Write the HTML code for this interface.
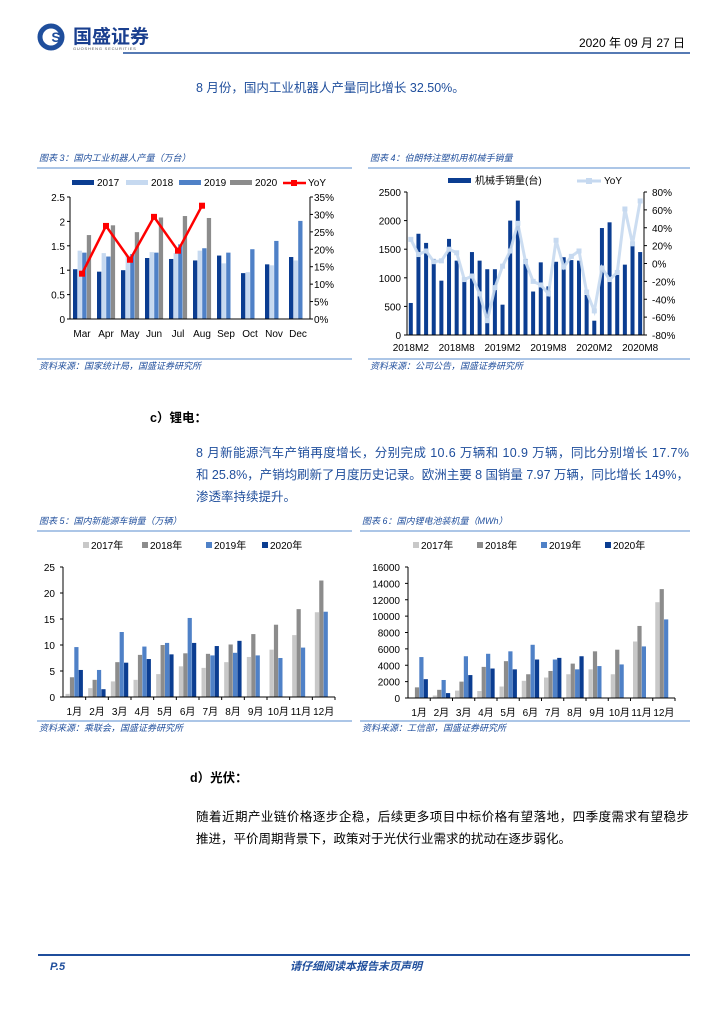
<!DOCTYPE html>
<html><head><meta charset="utf-8"><style>
body{margin:0;background:#fff;width:724px;height:1024px;overflow:hidden;font-family:"Liberation Sans","Noto Sans CJK SC",sans-serif}
svg{position:absolute;left:0;top:0}
</style></head><body>
<svg id="s" width="724" height="1024" xmlns="http://www.w3.org/2000/svg" font-family="Liberation Sans, Noto Sans CJK SC, sans-serif"></svg>
<script>
var o='';
function t(x,y,s,sz,fill,extra){o+='<text x="'+x+'" y="'+y+'" font-size="'+sz+'" fill="'+(fill||'#000')+'" '+(extra||'')+'>'+s+'</text>';}
function r(x,y,w,h,f){o+='<rect x="'+x+'" y="'+y+'" width="'+w+'" height="'+h+'" fill="'+f+'"/>';}
function l(x1,y1,x2,y2,c,w){o+='<line x1="'+x1+'" y1="'+y1+'" x2="'+x2+'" y2="'+y2+'" stroke="'+c+'" stroke-width="'+(w||1)+'"/>';}
var B='#1f4e9c';
// header
o+='<circle cx="51" cy="37" r="11" fill="none" stroke="#1f4e9c" stroke-width="5"/>';
t(56,42,'S',14,B,'font-weight="bold" text-anchor="middle"');
t(73,43,'国盛证券',19,'#1a3f8f','font-weight="bold"');
t(73,50,'GUOSHENG SECURITIES',4,'#555','letter-spacing="0.8"');
t(685,47,'2020 年 09 月 27 日',12,'#000','text-anchor="end"');
l(123,53,690,53,B,1.5);
t(196,92,'8 月份，国内工业机器人产量同比增长 32.50%。',12.5,B);
// chart frame helpers
function frame(x1,x2,ty,ly,title,sy,src){t(x1+2,ty,title,9,B,'font-style="italic"');l(x1,ly,x2,ly,'#5a8ccf',1);l(x1,sy,x2,sy,'#5a8ccf',1);t(x1+2,sy+10,src,9,B,'font-style="italic"');}
frame(37,352,161,168,'图表 3：国内工业机器人产量（万台）',359,'资料来源：国家统计局，国盛证券研究所');
frame(368,690,161,168,'图表 4：伯朗特注塑机用机械手销量',359,'资料来源：公司公告，国盛证券研究所');
frame(37,352,524,531,'图表 5：国内新能源车销量（万辆）',721,'资料来源：乘联会，国盛证券研究所');
frame(360,690,524,531,'图表 6：国内锂电池装机量（MWh）',721,'资料来源：工信部，国盛证券研究所');
// Chart 3
(function(){var X0=70,X1=310,Y0=319,H=122,cw=24;
var d=[[1.02,.97,1.0,1.25,1.23,1.2,1.3,.94,1.12,1.27],[1.4,1.35,1.3,1.37,1.35,1.4,1.14,.96,1.1,1.2],[1.36,1.28,1.33,1.36,1.53,1.45,1.36,1.43,1.6,2.01],[1.72,1.92,1.78,2.08,2.11,2.07]];
var c=['#0b3d91','#c6d9f0','#4f81c7','#8c8c8c'];
for(var s=0;s<4;s++)for(var i=0;i<d[s].length;i++){var h=d[s][i]/2.5*H;r(X0+i*cw+3+s*4.6,Y0-h,4.3,h,c[s]);}
l(X0,Y0-H,X0,Y0,'#000');l(X1,Y0-H,X1,Y0,'#000');l(X0,Y0,X1,Y0,'#000');
['0','0.5','1','1.5','2','2.5'].forEach(function(v,i){var y=Y0-i*H/5;t(X0-5,y+4,v,10,'#000','text-anchor="end"');l(X0-3,y,X0,y,'#000');});
for(var i=0;i<8;i++){var y=Y0-i*H/7;t(X1+4,y+4,(i*5)+'%',10,'#000');l(X1,y,X1+3,y,'#000');}
['Mar','Apr','May','Jun','Jul','Aug','Sep','Oct','Nov','Dec'].forEach(function(m,i){t(X0+i*cw+cw/2,337,m,10,'#000','text-anchor="middle"');});
var yy=[13,26.7,17,29.3,19.6,32.5],p='';yy.forEach(function(v,i){p+=(X0+i*cw+cw/2)+','+(Y0-v/35*H)+' ';});
o+='<polyline points="'+p+'" fill="none" stroke="#f00" stroke-width="2.5"/>';
yy.forEach(function(v,i){r(X0+i*cw+cw/2-3,Y0-v/35*H-3,6,6,'#f00');});
var lg=[[72,'2017',c[0]],[126,'2018',c[1]],[179,'2019',c[2]],[230,'2020',c[3]]];
lg.forEach(function(a){r(a[0],180,22,5,a[2]);t(a[0]+25,186,a[1],10);});
l(283,183,306,183,'#f00',2.5);r(291,180,6,6,'#f00');t(308,186,'YoY',10);
})();
// Chart 4
(function(){var X0=407,X1=644,Y0=335,H=143,cw=237/31;
var b=[560,1770,1610,1330,950,1680,1300,980,1450,1300,1150,1150,530,2000,2350,1330,760,1270,850,1280,1360,1310,1300,700,250,1870,1970,1050,1230,1590,1450];
var y=[27,10,14,2,3,16,12,-18,-14,-34,-64,-27,-3,14,45,2,-20,-24,-34,26,-4,8,14,-32,-53,-5,-18,-10,61,22,70];
b.forEach(function(v,i){var h=v/2500*H;r(X0+i*cw+1.8,Y0-h,4,h,'#0b3d91');});
var p='';y.forEach(function(v,i){p+=(X0+i*cw+cw/2)+','+(Y0-(v+80)/160*H)+' ';});
o+='<polyline points="'+p+'" fill="none" stroke="#c6d9f0" stroke-width="3" opacity="0.9"/>';
y.forEach(function(v,i){r(X0+i*cw+cw/2-2.5,Y0-(v+80)/160*H-2.5,5,5,'#c6d9f0');});
l(X0,Y0-H,X0,Y0,'#000');l(X1,Y0-H,X1,Y0,'#000');l(X0,Y0,X1,Y0,'#000');
for(var i=0;i<=5;i++){var yy=Y0-i*H/5;t(X0-6,yy+4,i*500,10,'#000','text-anchor="end"');l(X0-3,yy,X0,yy,'#000');}
for(var i=0;i<=8;i++){var yy=Y0-i*H/8;t(X1+8,yy+4,(i*20-80)+'%',10);l(X1,yy,X1+3,yy,'#000');}
['2018M2','2018M8','2019M2','2019M8','2020M2','2020M8'].forEach(function(s,i){t(X0+i*6*cw+cw/2,351,s,10,'#000','text-anchor="middle"');});
r(448,178,23,5,'#0b3d91');t(475,184,'机械手销量(台)',10);
l(577,181,601,181,'#c6d9f0',3);r(586,178,6,6,'#c6d9f0');t(604,184,'YoY',10);
})();
// bar chart 5/6
function grp(X0,X1,Y0,H,max,step,d,lx){var cw=(X1-X0)/12;var c=['#c8c8c8','#8c8c8c','#4f81c7','#0b3d91'];
for(var s=0;s<4;s++)for(var i=0;i<d[s].length;i++){var h=d[s][i]/max*H;r(X0+i*cw+2.5+s*4.4,Y0-h,4.2,h,c[s]);}
l(X0,Y0-H,X0,Y0,'#000');l(X0,Y0,X1,Y0,'#000');
for(var v=0;v<=max;v+=step){var y=Y0-v/max*H;t(X0-8,y+4,v,10,'#000','text-anchor="end"');l(X0-3,y,X0,y,'#000');}
for(var i=0;i<12;i++){t(X0+i*cw+cw/2,Y0+18,(i+1)+'月',10,'#000','text-anchor="middle"');l(X0+(i+1)*cw,Y0,X0+(i+1)*cw,Y0+3,'#000');}
['2017年','2018年','2019年','2020年'].forEach(function(s,i){r(lx[i],542,6,6,c[i]);t(lx[i]+8,549,s,10);});}
grp(63,335,697,130,25,5,[[.6,1.7,3.0,3.3,4.4,5.9,5.6,6.7,7.7,9.1,11.9,16.3],[3.8,3.3,6.7,8.1,10.0,8.4,8.3,10.1,12.1,13.9,16.9,22.4],[9.6,5.2,12.5,9.7,10.4,15.2,8.0,8.5,8.0,7.5,9.5,16.4],[5.2,1.5,6.6,7.3,8.2,10.4,9.8,10.8]],[83,142,206,262]);
grp(408,675,698,131,16000,2000,[[50,300,900,850,1400,2100,2500,2900,3500,2900,6900,11700],[1300,1000,2000,3800,4500,2900,3300,4200,5700,5900,8800,13300],[5000,2200,5100,5400,5700,6500,4700,3500,3900,4100,6300,9600],[2300,600,2800,3600,3500,4700,4900,5100]],[413,477,541,605]);
// text
t(150,422,'c）锂电：',12.5,'#000','font-weight="bold"');
t(196,457,'8 月新能源汽车产销再度增长，分别完成 10.6 万辆和 10.9 万辆，同比分别增长 17.7%',12.5,B,'textLength="493"');
t(196,479,'和 25.8%，产销均刷新了月度历史记录。欧洲主要 8 国销量 7.97 万辆，同比增长 149%，',12.5,B,'textLength="493"');
t(196,501,'渗透率持续提升。',12.5,B);
t(190,782,'d）光伏：',12.5,'#000','font-weight="bold"');
t(196,821,'随着近期产业链价格逐步企稳，后续更多项目中标价格有望落地，四季度需求有望稳步',12.5,'#000','textLength="493"');
t(196,843,'推进，平价周期背景下，政策对于光伏行业需求的扰动在逐步弱化。',12.5,'#000');
// footer
l(38,955,690,955,B,2);
t(50,970,'P.5',11,B,'font-weight="bold" font-style="italic"');
t(290,970,'请仔细阅读本报告末页声明',11,B,'font-weight="bold" font-style="italic"');
document.getElementById('s').innerHTML=o;
</script>
</body></html>
